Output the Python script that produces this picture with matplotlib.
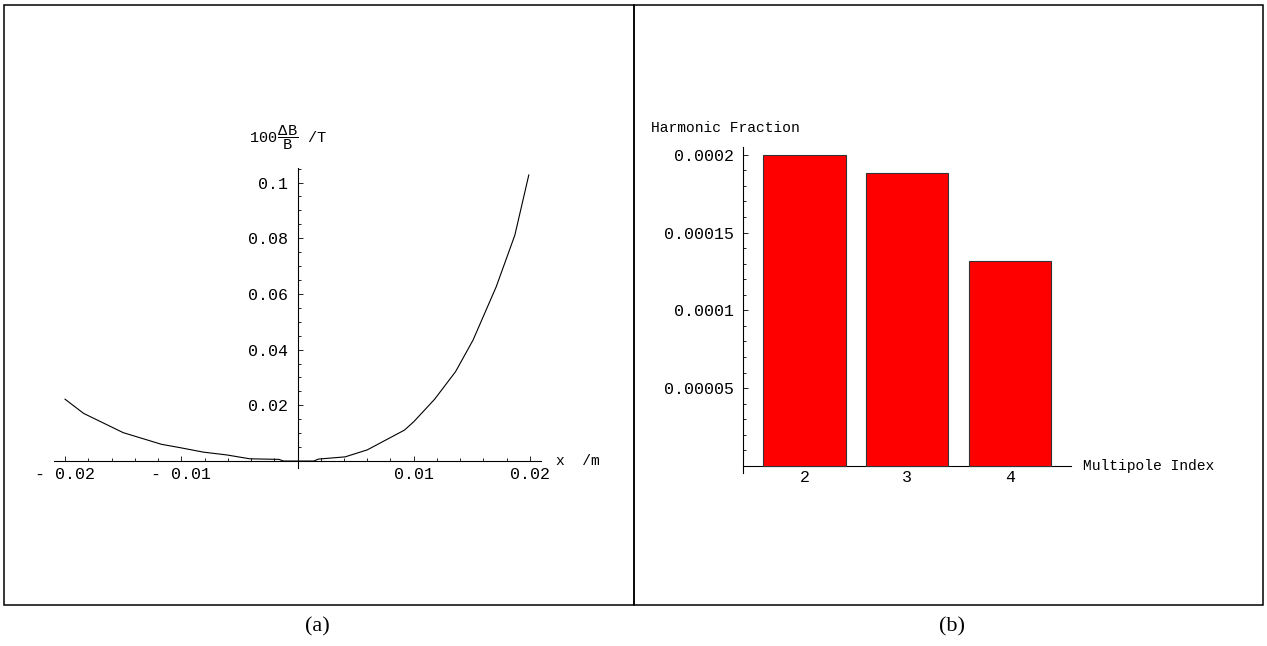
import matplotlib
matplotlib.use("Agg")
import matplotlib.pyplot as plt
from matplotlib.patches import Rectangle
from matplotlib.ticker import FixedLocator, MultipleLocator

# field error along x, in percent per tesla
x_pos = [-0.0200, -0.0184, -0.0150, -0.0117, -0.0101, -0.0081, -0.0061,
         -0.0041, -0.0016, -0.0012, 0.0014, 0.0018, 0.0041, 0.0060,
         0.0092, 0.0100, 0.0118, 0.0136, 0.0151, 0.0171, 0.0187, 0.0199]
dB_over_B = [0.0222, 0.0171, 0.0102, 0.0060, 0.0048, 0.0032, 0.0022,
             0.0008, 0.0006, 0.0, 0.0, 0.0007, 0.0015, 0.0040,
             0.0111, 0.0141, 0.0222, 0.0321, 0.0434, 0.0626, 0.0811, 0.1027]
x_ticks = [-0.02, -0.01, 0.01, 0.02]
x_tick_labels = ["- 0.02", "- 0.01", "0.01", "0.02"]
y_ticks = [0.02, 0.04, 0.06, 0.08, 0.1]
y_tick_labels = ["0.02", "0.04", "0.06", "0.08", "0.1"]

# harmonic content
multipole = [2, 3, 4]
harmonic_fraction = [0.000200, 0.000188, 0.000132]
h_ticks = [0.00005, 0.0001, 0.00015, 0.0002]
h_tick_labels = ["0.00005", "0.0001", "0.00015", "0.0002"]

W, H = 1267, 646
mono = "Liberation Mono"

plt.rcParams["mathtext.fontset"] = "custom"
plt.rcParams["mathtext.rm"] = mono
plt.rcParams["mathtext.it"] = mono


def px(x, y):
    # pixel position -> figure fraction
    return x / W, 1 - y / H


def style_axis(ax):
    for s in ["top", "right"]:
        ax.spines[s].set_visible(False)
    for s in ["left", "bottom"]:
        ax.spines[s].set_linewidth(0.8)
    ax.tick_params(which="both", direction="in", width=0.6, labelsize=12)
    ax.tick_params(which="major", length=3.5)
    ax.tick_params(which="minor", length=2)
    for lab in ax.get_xticklabels() + ax.get_yticklabels():
        lab.set_fontfamily(mono)


fig = plt.figure(figsize=(W / 100, H / 100), dpi=100)

# panel frames
fig.add_artist(Rectangle(px(4, 605), 630 / W, 600 / H, transform=fig.transFigure,
                         fill=False, lw=1.1, color="black"))
fig.add_artist(Rectangle(px(634, 605), 629 / W, 600 / H, transform=fig.transFigure,
                         fill=False, lw=1.1, color="black"))

# (a) field error
ax1 = fig.add_axes([54 / W, 1 - 468 / H, 487 / W, 299.7 / H])
ax1.plot(x_pos, dB_over_B, color="black", lw=0.8)
ax1.set_xlim(-0.02095, 0.02095)
ax1.set_ylim(-0.0025, 0.1051)
ax1.spines["left"].set_position(("data", 0))
ax1.spines["bottom"].set_position(("data", 0))
ax1.xaxis.set_major_locator(FixedLocator(x_ticks))
ax1.set_xticklabels(x_tick_labels)
ax1.xaxis.set_minor_locator(MultipleLocator(0.002))
ax1.yaxis.set_major_locator(FixedLocator(y_ticks))
ax1.set_yticklabels(y_tick_labels)
ax1.yaxis.set_minor_locator(MultipleLocator(0.005))
style_axis(ax1)
ax1.tick_params(axis="x", pad=4)
ax1.tick_params(axis="y", pad=7)
ax1.annotate("x  /m", xy=(1, 0), xycoords=("axes fraction", "data"),
             xytext=(11, 0), textcoords="offset points", va="center",
             fontfamily=mono, fontsize=10.5)
fig.text(*px(249, 138), r"$100\,\dfrac{\Delta B}{B}\ \ \ /T$", va="center",
         fontsize=11)

# (b) harmonic fractions
ax2 = fig.add_axes([743.3 / W, 1 - 473 / H, 327.4 / W, 326.3 / H])
ax2.bar(multipole, harmonic_fraction, width=0.8, color="#ff0000",
        edgecolor="#333333", linewidth=0.8, zorder=3)
ax2.set_xlim(1.404, 4.59)
ax2.set_ylim(-0.0000045, 0.00020514)
ax2.spines["bottom"].set_position(("data", 0))
ax2.set_xticks(multipole)
ax2.yaxis.set_major_locator(FixedLocator(h_ticks))
ax2.set_yticklabels(h_tick_labels)
ax2.yaxis.set_minor_locator(MultipleLocator(0.00001))
style_axis(ax2)
ax2.tick_params(axis="x", pad=3)
ax2.tick_params(axis="y", pad=7)
ax2.annotate("Multipole Index", xy=(1, 0), xycoords=("axes fraction", "data"),
             xytext=(9, 0), textcoords="offset points", va="center",
             fontfamily=mono, fontsize=10.5)
fig.text(*px(651, 128), "Harmonic Fraction", va="center",
         fontfamily=mono, fontsize=10.5)

# captions
fig.text(*px(317, 627), "(a)", ha="center", va="center",
         fontfamily="Liberation Serif", fontsize=16)
fig.text(*px(952, 627), "(b)", ha="center", va="center",
         fontfamily="Liberation Serif", fontsize=16)

fig.savefig("out.png", dpi=100)
